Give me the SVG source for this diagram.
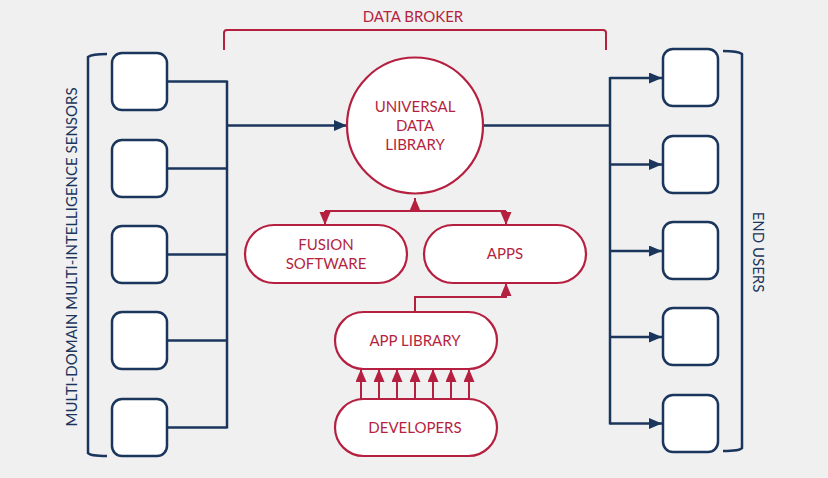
<svg xmlns="http://www.w3.org/2000/svg" width="828" height="478" viewBox="0 0 828 478">
<style>
.bg{fill:#f0f0f0}
.box{fill:#fff;stroke:#1b365d;stroke-width:2.5}
.nav{fill:none;stroke:#1b365d;stroke-width:2.5}
.red{fill:none;stroke:#b51f40;stroke-width:2}
.pill{fill:#fff;stroke:#b51f40;stroke-width:2.2}
.rt{font-family:Lato,"Liberation Sans",sans-serif;font-size:15px;fill:#b51f40;text-anchor:middle}
.nt{font-family:Lato,"Liberation Sans",sans-serif;font-size:15px;fill:#1b365d;text-anchor:middle}
</style>
<defs>
<marker id="an" markerUnits="userSpaceOnUse" markerWidth="14" markerHeight="12" refX="13" refY="5.5" orient="auto"><path d="M0,0 L13,5.5 L0,11 z" fill="#1b365d"/></marker>
<marker id="ar" markerUnits="userSpaceOnUse" markerWidth="14" markerHeight="12" refX="13" refY="5.5" orient="auto"><path d="M0,0 L13,5.5 L0,11 z" fill="#b51f40"/></marker>
</defs>
<rect class="bg" x="0" y="0" width="828" height="478"/>

<g id="brackets">
<path class="nav" d="M107,54 Q92,54 88,57 L88,453 Q90,456 107,456"/>
<path class="nav" d="M723,51 Q738,51 742,54 L742,448 Q740,451 723,451"/>
<path class="red" d="M224,50 L224,33 Q224,30 227,30 L603,30 Q606,30 606,33 L606,50"/>
<text class="rt" x="413" y="22">DATA BROKER</text>
<text class="nt" transform="translate(77,257) rotate(-90)">MULTI-DOMAIN MULTI-INTELLIGENCE SENSORS</text>
<text class="nt" transform="translate(753,252) rotate(90)">END USERS</text>
</g>

<g id="connectors">
<path class="nav" d="M167,81.5 H227 M167,168.5 H227 M167,254.5 H227 M167,340.5 H227 M167,427.5 H227 M227,80.5 V428.5"/>
<path class="nav" d="M227,125.5 H347" marker-end="url(#an)"/>
<path class="nav" d="M483,125.5 H610 M610,77 V424.5"/>
<path class="nav" d="M610,78 H662" marker-end="url(#an)"/>
<path class="nav" d="M610,164.5 H662" marker-end="url(#an)"/>
<path class="nav" d="M610,251 H662" marker-end="url(#an)"/>
<path class="nav" d="M610,337 H662" marker-end="url(#an)"/>
<path class="nav" d="M610,423.5 H662" marker-end="url(#an)"/>
<path class="red" d="M415,211 V198" marker-end="url(#ar)"/>
<path class="red" d="M325,211 H506"/>
<path class="red" d="M325,211 V225" marker-end="url(#ar)"/>
<path class="red" d="M506,211 V225" marker-end="url(#ar)"/>
<path class="red" d="M415,312 V297 H506 V283" marker-end="url(#ar)"/>
<path class="red" d="M361,399 V369" marker-end="url(#ar)"/>
<path class="red" d="M379,399 V369" marker-end="url(#ar)"/>
<path class="red" d="M397,399 V369" marker-end="url(#ar)"/>
<path class="red" d="M415,399 V369" marker-end="url(#ar)"/>
<path class="red" d="M433,399 V369" marker-end="url(#ar)"/>
<path class="red" d="M451,399 V369" marker-end="url(#ar)"/>
<path class="red" d="M469,399 V369" marker-end="url(#ar)"/>
</g>

<g id="sensor1"><rect class="box" x="112" y="53" width="55" height="57" rx="10"/></g>
<g id="sensor2"><rect class="box" x="112" y="140" width="55" height="57" rx="10"/></g>
<g id="sensor3"><rect class="box" x="112" y="226" width="55" height="57" rx="10"/></g>
<g id="sensor4"><rect class="box" x="112" y="312" width="55" height="57" rx="10"/></g>
<g id="sensor5"><rect class="box" x="112" y="399" width="55" height="57" rx="10"/></g>

<g id="user1"><rect class="box" x="663" y="49" width="55" height="57" rx="10"/></g>
<g id="user2"><rect class="box" x="663" y="136" width="55" height="57" rx="10"/></g>
<g id="user3"><rect class="box" x="663" y="222" width="55" height="57" rx="10"/></g>
<g id="user4"><rect class="box" x="663" y="308" width="55" height="57" rx="10"/></g>
<g id="user5"><rect class="box" x="663" y="395" width="55" height="57" rx="10"/></g>

<g id="udl">
<circle cx="415" cy="125.5" r="68" fill="#fff" stroke="#b51f40" stroke-width="2.2"/>
<text class="rt" x="415" y="112">UNIVERSAL</text>
<text class="rt" x="415" y="131">DATA</text>
<text class="rt" x="415" y="150">LIBRARY</text>
</g>

<g id="fusion">
<rect class="pill" x="245" y="225" width="162" height="58" rx="29"/>
<text class="rt" x="326" y="250">FUSION</text>
<text class="rt" x="326" y="269">SOFTWARE</text>
</g>

<g id="apps">
<rect class="pill" x="424" y="225" width="162" height="58" rx="29"/>
<text class="rt" x="505" y="259">APPS</text>
</g>

<g id="applibrary">
<rect class="pill" x="335" y="312" width="162" height="57" rx="28.5"/>
<text class="rt" x="415" y="346">APP LIBRARY</text>
</g>

<g id="developers">
<rect class="pill" x="335" y="399" width="162" height="57" rx="28.5"/>
<text class="rt" x="415" y="433">DEVELOPERS</text>
</g>
</svg>
